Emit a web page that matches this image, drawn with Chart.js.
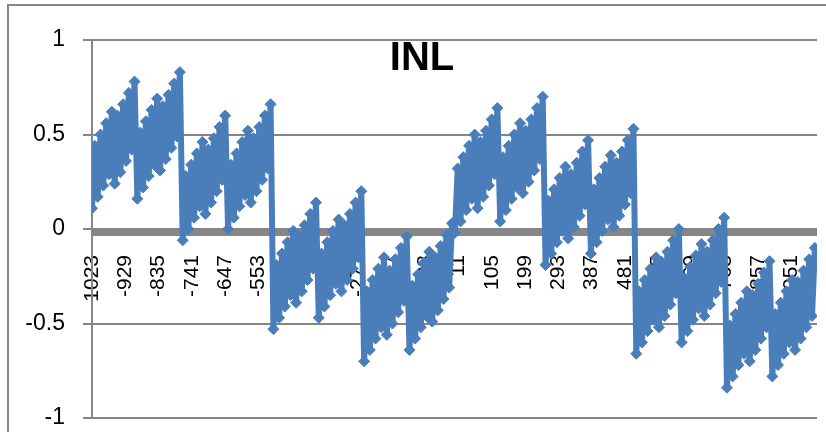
<!DOCTYPE html>
<html>
<head>
<meta charset="utf-8">
<title>INL</title>
<script src="https://cdn.jsdelivr.net/npm/chart.js@4"></script>
<style>
    html, body { margin: 0; padding: 0; background: #ffffff; }
    #inlChart { display: block; }
</style>
</head>
<body>
<canvas id="inlChart" width="826" height="432"></canvas>
<script>
// Input codes are sampled every 8 codes starting at -1023
const firstCode = -1023;
const codeStep = 8;

// INL (LSB), one row per 64-code sub-ramp, 4 rows per 256-code segment
const inlValues = [
    // -1023 .. -768
    0.11, 0.44, 0.17, 0.50, 0.23, 0.56, 0.29, 0.62,
    0.24, 0.60, 0.30, 0.66, 0.36, 0.72, 0.42, 0.78,
    0.16, 0.51, 0.22, 0.57, 0.28, 0.63, 0.34, 0.69,
    0.31, 0.65, 0.37, 0.71, 0.43, 0.77, 0.49, 0.83,
    // -767 .. -512
    -0.06, 0.28, 0.00, 0.34, 0.06, 0.40, 0.12, 0.46,
    0.08, 0.42, 0.14, 0.48, 0.20, 0.54, 0.26, 0.60,
    0.00, 0.34, 0.06, 0.40, 0.12, 0.46, 0.18, 0.52,
    0.14, 0.48, 0.20, 0.54, 0.26, 0.60, 0.32, 0.66,
    // -511 .. -256
    -0.53, -0.19, -0.47, -0.13, -0.41, -0.07, -0.35, -0.01,
    -0.39, -0.04, -0.33, 0.02, -0.27, 0.08, -0.21, 0.14,
    -0.47, -0.13, -0.41, -0.07, -0.35, -0.01, -0.29, 0.05,
    -0.33, 0.02, -0.27, 0.08, -0.21, 0.14, -0.15, 0.20,
    // -255 .. 0
    -0.70, -0.33, -0.64, -0.27, -0.58, -0.21, -0.52, -0.15,
    -0.56, -0.22, -0.50, -0.16, -0.44, -0.10, -0.38, -0.04,
    -0.64, -0.30, -0.58, -0.24, -0.52, -0.18, -0.46, -0.12,
    -0.49, -0.15, -0.43, -0.09, -0.37, -0.03, -0.31, 0.03,
    // 1 .. 256
    -0.02, 0.32, 0.04, 0.38, 0.10, 0.44, 0.16, 0.50,
    0.11, 0.46, 0.17, 0.52, 0.23, 0.58, 0.29, 0.64,
    0.04, 0.38, 0.10, 0.44, 0.16, 0.50, 0.22, 0.56,
    0.19, 0.52, 0.25, 0.58, 0.31, 0.64, 0.37, 0.70,
    // 257 .. 512
    -0.19, 0.15, -0.13, 0.21, -0.07, 0.27, -0.01, 0.33,
    -0.05, 0.29, 0.01, 0.35, 0.07, 0.41, 0.13, 0.47,
    -0.13, 0.21, -0.07, 0.27, -0.01, 0.33, 0.05, 0.39,
    0.01, 0.35, 0.07, 0.41, 0.13, 0.47, 0.19, 0.53,
    // 513 .. 768
    -0.66, -0.33, -0.60, -0.27, -0.54, -0.21, -0.48, -0.15,
    -0.52, -0.18, -0.46, -0.12, -0.40, -0.06, -0.34, 0.00,
    -0.60, -0.26, -0.54, -0.20, -0.48, -0.14, -0.42, -0.08,
    -0.46, -0.12, -0.40, -0.06, -0.34, 0.00, -0.28, 0.06,
    // 769 .. 1023
    -0.84, -0.51, -0.78, -0.45, -0.72, -0.39, -0.66, -0.33,
    -0.70, -0.35, -0.64, -0.29, -0.58, -0.23, -0.52, -0.17,
    -0.78, -0.45, -0.72, -0.39, -0.66, -0.33, -0.60, -0.27,
    -0.64, -0.28, -0.58, -0.22, -0.52, -0.16, -0.46, -0.10
];

// Category labels shown under the zero line
const tickCodes = [-1023, -929, -835, -741, -647, -553, -459, -365, -271, -177, -83,
    11, 105, 199, 293, 387, 481, 575, 669, 763, 857, 951];

const seriesColor = '#4a7ebb';
const axisGray = '#868686';
const fontFamily = "'Liberation Sans', Arial, sans-serif";

// outer chart frame (only top and left edges are on screen)
const framePlugin = {
    id: 'frame',
    beforeDraw(chart) {
        const ctx = chart.ctx;
        ctx.save();
        ctx.strokeStyle = axisGray;
        ctx.lineWidth = 2;
        ctx.beginPath();
        ctx.moveTo(8, chart.height);
        ctx.lineTo(8, 5);
        ctx.lineTo(chart.width, 5);
        ctx.stroke();
        ctx.restore();
    }
};

// heavy horizontal axis line at y = 0, under the series
const zeroLinePlugin = {
    id: 'zeroLine',
    beforeDatasetsDraw(chart) {
        const { ctx, chartArea, scales } = chart;
        const y0 = Math.round(scales.y.getPixelForValue(0));
        ctx.save();
        ctx.fillStyle = axisGray;
        ctx.fillRect(chartArea.left, y0 - 1, chartArea.right - chartArea.left, 8);
        ctx.restore();
    }
};

// title sits inside the plot area, over the top gridline
const titlePlugin = {
    id: 'insideTitle',
    afterDraw(chart) {
        const ctx = chart.ctx;
        ctx.save();
        ctx.fillStyle = '#000000';
        ctx.font = 'bold 40px ' + fontFamily;
        ctx.textAlign = 'center';
        ctx.textBaseline = 'alphabetic';
        ctx.fillText('INL', 422, 70);
        ctx.restore();
    }
};

document.addEventListener('DOMContentLoaded', function() {
    const points = inlValues.map((v, i) => ({ x: firstCode + i * codeStep, y: v }));

    new Chart(document.getElementById('inlChart').getContext('2d'), {
        type: 'line',
        data: {
            datasets: [{
                label: 'INL',
                data: points,
                xAxisID: 'x',
                borderColor: seriesColor,
                borderWidth: 6,
                borderJoinStyle: 'round',
                backgroundColor: seriesColor,
                pointStyle: 'rectRot',
                pointRadius: 5.5,
                pointBorderWidth: 1,
                pointBorderColor: seriesColor,
                pointBackgroundColor: seriesColor,
                tension: 0,
                fill: false
            }]
        },
        options: {
            responsive: false,
            animation: false,
            layout: { padding: { left: 0, top: 40, right: 9, bottom: 14 } },
            plugins: {
                legend: { display: false },
                title: { display: false },
                tooltip: { enabled: false }
            },
            scales: {
                x: {
                    type: 'linear',
                    min: -1023,
                    max: 1023,
                    position: { y: 0 },
                    grid: { display: false, drawTicks: false },
                    border: { display: false },
                    ticks: { display: false },
                    afterFit: (scale) => { scale.height = 0; }
                },
                // code labels, drawn over the series
                codes: {
                    type: 'linear',
                    axis: 'x',
                    min: -1023,
                    max: 1023,
                    position: { y: 0 },
                    z: 1,
                    grid: { display: false, drawTicks: false },
                    border: { display: false },
                    ticks: {
                        autoSkip: false,
                        minRotation: 90,
                        maxRotation: 90,
                        padding: 26,
                        color: '#000000',
                        font: { family: fontFamily, size: 21 },
                        callback: (value) => String(value)
                    },
                    afterBuildTicks: (scale) => {
                        scale.ticks = tickCodes.map(v => ({ value: v }));
                    },
                    afterFit: (scale) => {
                        scale.height = 0;
                        scale.paddingLeft = 0;
                        scale.paddingRight = 0;
                    }
                },
                y: {
                    min: -1,
                    max: 1,
                    grid: { color: axisGray, lineWidth: 2, tickLength: 9 },
                    border: { display: true, color: axisGray, width: 2 },
                    ticks: {
                        stepSize: 0.5,
                        padding: 18,
                        color: '#000000',
                        font: { family: fontFamily, size: 23 },
                        callback: (value) => String(value)
                    },
                    afterFit: (scale) => {
                        scale.width = 92;
                        scale.paddingTop = 0;
                        scale.paddingBottom = 0;
                    }
                }
            }
        },
        plugins: [framePlugin, zeroLinePlugin, titlePlugin]
    });
});
</script>
</body>
</html>
